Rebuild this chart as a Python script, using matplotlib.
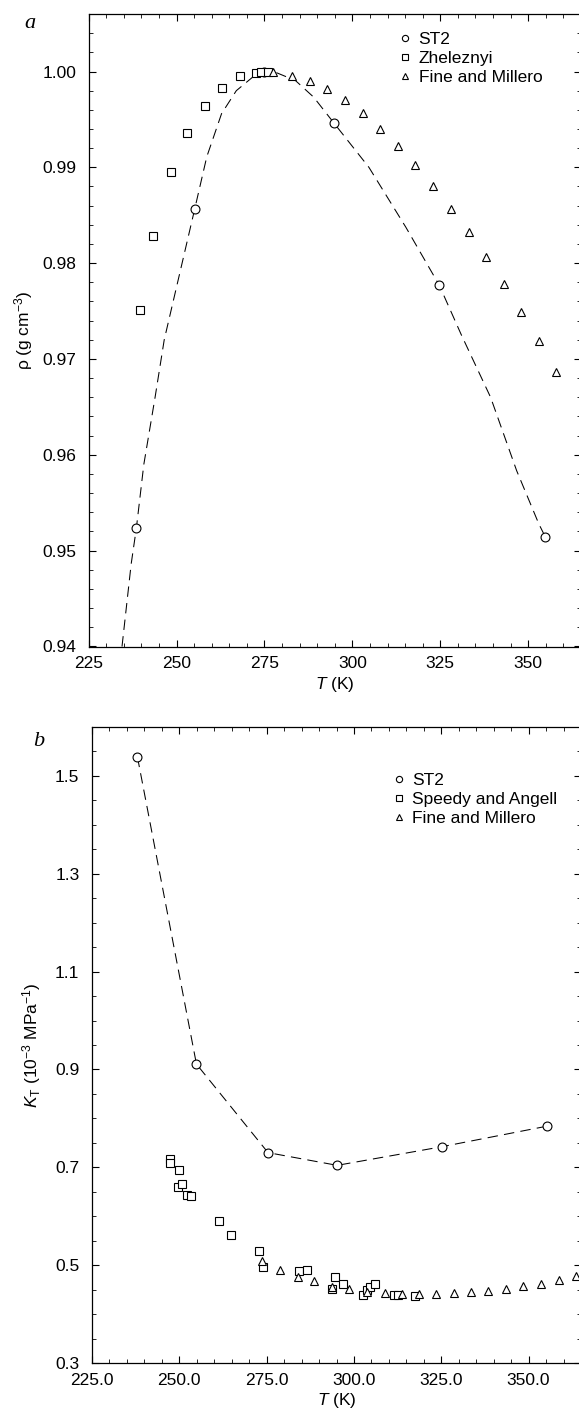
import matplotlib
matplotlib.use('Agg')
import matplotlib.pyplot as plt
from matplotlib.ticker import MultipleLocator, FormatStrFormatter

plt.rcParams['font.family'] = ['Liberation Sans', 'DejaVu Sans']
plt.rcParams['mathtext.fontset'] = 'custom'
plt.rcParams['mathtext.rm'] = 'Liberation Sans'
plt.rcParams['mathtext.it'] = 'Liberation Sans:italic'
plt.rcParams['mathtext.bf'] = 'Liberation Sans:bold'

# ---------------- Panel a: density ----------------
st2_T_a = [238.6, 255.2, 274.8, 294.8, 324.7, 354.9]
st2_rho = [0.9524, 0.9857, 0.99995, 0.9946, 0.9777, 0.9514]

fit_T_a = [234.5, 237.1, 238.6, 240.7, 243.9, 246.5, 255.2, 258.6, 262.8, 267.0,
           272.2, 277.6, 283.8, 289.0, 294.8, 304.7, 315.2, 324.7, 331.0, 339.3,
           346.7, 353.0, 354.9]
fit_rho = [0.9400, 0.9486, 0.9524, 0.9590, 0.9660, 0.9720, 0.9857, 0.9911, 0.9956, 0.9980,
           0.99958, 1.0000, 0.99906, 0.99732, 0.9946, 0.9900, 0.98375, 0.9777, 0.9725, 0.9660,
           0.95835, 0.9528, 0.9514]

zhel_T = [239.5, 243.4, 248.3, 253.1, 258.1, 262.9, 268.0, 272.7, 274.0, 276.0]
zhel_rho = [0.9751, 0.98288, 0.98949, 0.9936, 0.99635, 0.99826, 0.99948, 0.99982, 0.99995, 0.99997]

fm_T_a = [277.5, 282.9, 288.0, 292.9, 297.9, 303.0, 307.9, 312.9, 317.8, 322.9,
          328.0, 333.1, 338.1, 343.0, 348.0, 353.0, 358.0]
fm_rho = [1.0000, 0.99958, 0.99906, 0.99815, 0.99705, 0.99565, 0.99402, 0.9922, 0.99026, 0.9881,
          0.98567, 0.98323, 0.98062, 0.97784, 0.97487, 0.97192, 0.96861]

# ---------------- Panel b: compressibility ----------------
st2_T_b = [238.0, 254.9, 275.4, 295.2, 325.1, 355.2]
st2_K = [1.539, 0.911, 0.730, 0.704, 0.742, 0.784]

sa_T = [247.3, 247.4, 249.9, 249.7, 250.9, 252.3, 253.4, 261.5, 264.7, 272.9,
        274.1, 284.4, 286.6, 294.5, 293.7, 296.8, 302.6, 303.7, 304.7, 306.1,
        311.4, 312.7, 317.4]
sa_K = [0.717, 0.709, 0.694, 0.660, 0.665, 0.643, 0.642, 0.591, 0.562, 0.528,
        0.496, 0.489, 0.491, 0.476, 0.451, 0.461, 0.439, 0.450, 0.456, 0.461,
        0.439, 0.438, 0.436]

fm_T_b = [273.8, 278.9, 283.9, 288.7, 293.7, 298.7, 303.7, 308.8, 313.7, 318.7,
          323.5, 328.7, 333.5, 338.5, 343.6, 348.5, 353.5, 358.8, 363.5]
fm_K = [0.508, 0.491, 0.476, 0.467, 0.456, 0.451, 0.445, 0.443, 0.441, 0.441,
        0.441, 0.443, 0.445, 0.4475, 0.452, 0.457, 0.461, 0.469, 0.477]

W, H = 579, 1412
fig = plt.figure(figsize=(W / 100, H / 100), dpi=100)

def px_axes(left, right, top, bottom):
    return fig.add_axes([left / W, 1 - bottom / H, (right - left) / W, (bottom - top) / H])

axa = px_axes(88.6, 581, 14, 646.5)
axb = px_axes(92, 581, 727, 1363)

mk = dict(linestyle='none', color='black', markerfacecolor='white',
          markeredgecolor='black', markeredgewidth=0.8, markersize=6.4, zorder=3)
dash = dict(color='black', linewidth=0.75, dashes=(10, 6), zorder=2)

# Panel a
axa.plot(fit_T_a, fit_rho, **dash)
axa.plot(st2_T_a, st2_rho, marker='o', label='ST2', **mk)
axa.plot(zhel_T, zhel_rho, marker='s', label='Zheleznyi', **{**mk, 'markersize': 5.5})
axa.plot(fm_T_a, fm_rho, marker='^', label='Fine and Millero', **mk)
axa.set_xlim(225, 365)
axa.set_ylim(0.94, 1.006)
axa.xaxis.set_major_locator(MultipleLocator(25))
axa.xaxis.set_minor_locator(MultipleLocator(5))
axa.yaxis.set_major_locator(MultipleLocator(0.01))
axa.yaxis.set_minor_locator(MultipleLocator(0.002))
axa.xaxis.set_major_formatter(FormatStrFormatter('%d'))
axa.yaxis.set_major_formatter(FormatStrFormatter('%.2f'))
axa.set_xlabel('$T$ (K)', fontsize=12.5, labelpad=3)
axa.set_ylabel('ρ (g cm$^{-3}$)', fontsize=12.5)
axa.yaxis.set_label_coords(-0.109, 0.5)

# Panel b
axb.plot(st2_T_b, st2_K, **dash)
axb.plot(st2_T_b, st2_K, marker='o', label='ST2', **mk)
axb.plot(sa_T, sa_K, marker='s', label='Speedy and Angell', **{**mk, 'markersize': 5.5})
axb.plot(fm_T_b, fm_K, marker='^', label='Fine and Millero', **mk)
axb.set_xlim(225, 365)
axb.set_ylim(0.3, 1.6)
axb.xaxis.set_major_locator(MultipleLocator(25))
axb.xaxis.set_minor_locator(MultipleLocator(5))
axb.yaxis.set_major_locator(MultipleLocator(0.2, offset=0.1))
axb.yaxis.set_minor_locator(MultipleLocator(0.05))
axb.xaxis.set_major_formatter(FormatStrFormatter('%.1f'))
axb.yaxis.set_major_formatter(FormatStrFormatter('%.1f'))
axb.set_xlabel('$T$ (K)', fontsize=12.5, labelpad=2)
axb.set_ylabel('$K_{\\mathrm{T}}$ (10$^{-3}$ MPa$^{-1}$)', fontsize=12.5)
axb.yaxis.set_label_coords(-0.10, 0.5)

for ax in (axa, axb):
    ax.tick_params(which='both', direction='in', top=True, right=True, labelsize=12.5)
    ax.tick_params(which='major', length=5, width=0.8)
    ax.tick_params(which='minor', length=3, width=0.6)
    ax.tick_params(axis='y', which='major', pad=9)
    ax.tick_params(axis='x', which='major', pad=7)
    for s in ax.spines.values():
        s.set_linewidth(0.9)

axa.legend(loc='upper left', bbox_to_anchor=(0.633, 0.972), frameon=False,
           handlelength=0.6, handletextpad=0.45, labelspacing=0.22, borderpad=0,
           borderaxespad=0, fontsize=12.5, markerscale=0.7)
axb.legend(loc='upper left', bbox_to_anchor=(0.617, 0.928), frameon=False,
           handlelength=0.6, handletextpad=0.45, labelspacing=0.22, borderpad=0,
           borderaxespad=0, fontsize=12.5, markerscale=0.7)

fig.text(30 / W, 1 - 23 / H, 'a', fontsize=16, style='italic', family='Liberation Serif',
         ha='center', va='center')
fig.text(39 / W, 1 - 742 / H, 'b', fontsize=16, style='italic', family='Liberation Serif',
         ha='center', va='center')

fig.savefig('out.png', dpi=100)
